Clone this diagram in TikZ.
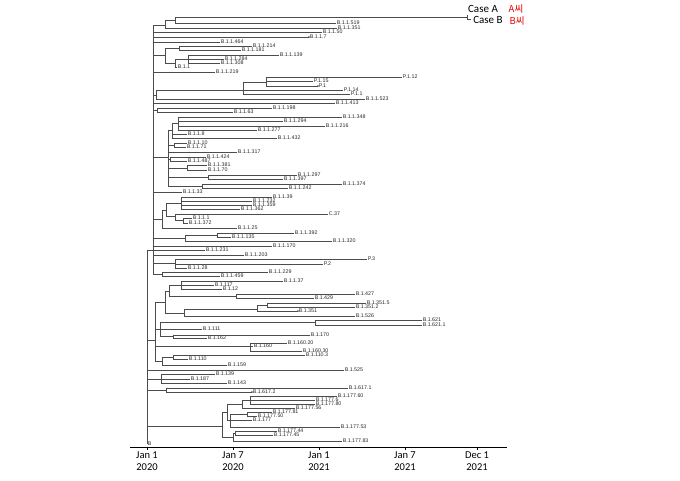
\documentclass[tikz,border=0pt]{standalone}
\usepackage{fontspec}
\setmainfont{Liberation Sans}
\newfontfamily\carl{Carlito}
\newfontfamily\krf{Noto Sans CJK KR}
\tikzset{
  br/.style={draw=black!70, line width=0.5pt},
  lbl/.style={anchor=west, inner sep=0.6pt, font=\fontsize{5.3}{5.3}\selectfont, text=black!85},
  axlbl/.style={font=\carl\fontsize{10.5}{12}\selectfont, align=center, inner sep=0pt},
  casel/.style={font=\carl\fontsize{11}{12}\selectfont, inner sep=0pt},
  krl/.style={font=\krf\fontsize{9.5}{10}\selectfont, text=red!90!black, inner sep=0pt},
  tipdot/.style={fill=black!75}
}
\newcommand\lf[4]{\coordinate (#1) at (#2,#3); \node[lbl] (#1t) at (#1) {#4};}
\newcommand\nd[3]{\coordinate (#1) at (#2,#3);}
\begin{document}
\begin{tikzpicture}[x=1pt,y=-1pt]
\useasboundingbox (0,0) rectangle (680,481);
% internal nodes
\nd{R}{147}{250}\nd{U}{153}{250}\nd{T}{165}{25}\nd{T1}{175}{20}\nd{caseN}{467}{17}
\nd{cA}{468}{15}\nd{cB}{471}{19.5}
\nd{g1}{165}{55}\nd{g2}{179}{48}\nd{g3}{175}{63}\nd{g4}{188}{59}
\nd{Pc}{156}{95}\nd{Pb}{243}{90}\nd{Pa}{266}{82}\nd{Q}{157}{110}
\nd{C1a}{178}{123}\nd{C1}{172}{130}\nd{C2}{174}{145}\nd{C3}{170}{159}\nd{C4}{187}{168}
\nd{C5}{208}{177}\nd{C6}{202}{186}\nd{Cn}{168}{157}
\nd{D1a}{181}{203}\nd{D1c}{183}{220}\nd{D1b}{175}{216}\nd{D1}{166}{210}\nd{D}{162}{219}
\nd{E1}{217}{235}\nd{E}{185}{238}\nd{F}{175}{263}\nd{G}{162}{274}
\nd{H1a}{181}{285}\nd{H1b}{236}{296}\nd{H1}{169}{291}\nd{H2b}{267}{305}\nd{H2a}{257}{309}
\nd{H2}{184}{313}\nd{H12}{165}{302}\nd{H3b}{315}{322}\nd{H3a}{173}{336}\nd{H3}{160}{329}
\nd{H4}{250}{346}\nd{H5a}{173}{357}\nd{H5}{162}{361}\nd{H}{155}{340}
\nd{I}{161}{379}\nd{J}{166}{390}
\nd{Ka}{250}{400}\nd{Kb}{242}{404}\nd{Kc}{247}{414}\nd{Kd}{230}{420}\nd{Kx}{227}{412}
\nd{Kf}{235}{433}\nd{Kg}{233}{437}\nd{K}{222}{426}
% leaves
\lf{a519}{336}{23}{B.1.1.519}\lf{a351}{337}{28}{B.1.1.351}
\lf{a50}{322}{32}{B.1.1.50}\lf{a7}{309}{37}{B.1.1.7}\lf{a464}{220}{42}{B.1.1.464}
\lf{a214}{252}{46}{B.1.1.214}\lf{a181}{241}{50}{B.1.1.181}\lf{a139}{279}{55}{B.1.1.139}
\lf{a284}{224}{59}{B.1.1.284}\lf{a308}{220}{63}{B.1.1.308}\lf{aB11}{177}{67}{B.1.1}
\lf{a219}{215}{72}{B.1.1.219}
\lf{p12}{402}{77}{P.1.12}\lf{p15}{313}{81}{P.1.15}\lf{p1}{318}{86}{P.1}
\lf{p14}{343}{90}{P.1.14}\lf{p11}{350}{94}{P.1.1}
\lf{a523}{365}{99}{B.1.1.523}\lf{a413}{335}{103}{B.1.1.413}
\lf{a198}{272}{108}{B.1.1.198}\lf{a63}{233}{112}{B.1.1.63}
\lf{a348}{342}{117}{B.1.1.348}\lf{a294}{283}{121}{B.1.1.294}\lf{a216}{325}{126}{B.1.1.216}
\lf{a277}{257}{130}{B.1.1.277}\lf{a8}{187}{134}{B.1.1.8}\lf{a432}{277}{138}{B.1.1.432}
\lf{a10}{187}{143}{B.1.1.10}\lf{a71}{186}{147}{B.1.1.71}\lf{a317}{237}{152}{B.1.1.317}
\lf{a424}{206}{157}{B.1.1.424}\lf{a487}{187}{161}{B.1.1.487}\lf{a381}{207}{165}{B.1.1.381}
\lf{a70}{207}{170}{B.1.1.70}\lf{a297}{297}{175}{B.1.1.297}\lf{a397}{283}{179}{B.1.1.397}
\lf{a374}{342}{184}{B.1.1.374}\lf{a242}{288}{188}{B.1.1.242}\lf{a33}{182}{192}{B.1.1.33}
\lf{a39}{272}{197}{B.1.1.39}\lf{a232}{252}{201}{B.1.1.232}\lf{a359}{252}{205}{B.1.1.359}
\lf{a362}{240}{209}{B.1.1.362}\lf{c37}{328}{214}{C.37}\lf{a1}{192}{218}{B.1.1.1}
\lf{a372}{188}{223}{B.1.1.372}\lf{a25}{237}{228}{B.1.1.25}\lf{a392}{294}{233}{B.1.1.392}
\lf{a135}{231}{237}{B.1.1.135}\lf{a320}{332}{241}{B.1.1.320}\lf{a170}{272}{246}{B.1.1.170}
\lf{a231}{205}{250}{B.1.1.231}\lf{a203}{244}{255}{B.1.1.203}\lf{p3}{367}{259}{P.3}
\lf{p2}{323}{264}{P.2}\lf{a28}{187}{268}{B.1.1.28}\lf{a229}{268}{272}{B.1.1.229}
\lf{a459}{220}{276}{B.1.1.459}
\lf{a37}{283}{281}{B.1.1.37}\lf{b117}{214}{285}{B.1.117}\lf{b12}{222}{289}{B.1.12}
\lf{b427}{355}{294}{B.1.427}\lf{b429}{314}{298}{B.1.429}\lf{b3515}{366}{303}{B.1.351.5}
\lf{b3512}{355}{307}{B.1.351.2}\lf{b351}{298}{311}{B.1.351}\lf{b526}{355}{316}{B.1.526}
\lf{b621}{422}{320}{B.1.621}\lf{b6211}{422}{325}{B.1.621.1}\lf{b111}{202}{329}{B.1.111}
\lf{b170}{310}{335}{B.1.170}\lf{b162}{207}{338}{B.1.162}\lf{b16020}{287}{343}{B.1.160.20}
\lf{b160}{253}{346}{B.1.160}\lf{b16030}{302}{351}{B.1.160.30}\lf{b1103}{305}{355}{B.1.110.3}
\lf{b110}{188}{359}{B.1.110}\lf{b159}{227}{365}{B.1.159}\lf{b525}{344}{370}{B.1.525}
\lf{b139}{215}{374}{B.1.139}\lf{b187}{190}{379}{B.1.187}\lf{b143}{227}{383}{B.1.143}
\lf{b6171}{348}{388}{B.1.617.1}\lf{b6172}{252}{392}{B.1.617.2}
\lf{k60}{337}{396}{B.1.177.60}\lf{k6}{315}{400}{B.1.177.6}\lf{k80}{315}{404}{B.1.177.80}
\lf{k56}{295}{408}{B.1.177.56}\lf{k81}{272}{412}{B.1.177.81}\lf{k50}{257}{416}{B.1.177.50}
\lf{k177}{252}{420}{B.1.177}\lf{k53}{340}{427}{B.1.177.53}\lf{k44}{277}{431}{B.1.177.44}
\lf{k45}{273}{435}{B.1.177.45}\lf{k83}{342}{441}{B.1.177.83}\lf{lB}{147}{444}{B}
% branches
\foreach \a/\b in {R/U,R/H,R/b525,R/I,R/J,R/K,R/lB,
 U/T,U/a50,U/a7,U/a464,U/g1,U/a219,U/Pc,U/a413,U/Q,U/Cn,U/a33,U/D,U/E,U/a170,U/a231,U/a203,U/F,U/G,
 T/T1,T/a351,T1/caseN,T1/a519,caseN/cA,caseN/cB,
 g1/g2,g1/g3,g2/a214,g2/a181,g3/g4,g3/aB11,g4/a139,g4/a284,g4/a308,
 Pc/Pb,Pc/a523,Pb/Pa,Pb/p14,Pb/p11,Pa/p12,Pa/p15,Pa/p1,Q/a198,Q/a63,
 Cn/C1,Cn/C2,Cn/a317,Cn/C3,Cn/C4,Cn/C5,Cn/C6,
 C1/C1a,C1/a8,C1/a432,C1a/a348,C1a/a294,C1a/a216,C1a/a277,
 C2/a10,C2/a71,C3/a424,C3/a487,C4/a381,C4/a70,C5/a297,C5/a397,C6/a374,C6/a242,
 D/D1,D/a25,D1/D1a,D1/D1b,D1a/a39,D1a/a232,D1a/a359,D1a/a362,D1b/c37,D1b/D1c,D1c/a1,D1c/a372,
 E/E1,E/a320,E1/a392,E1/a135,F/p3,F/p2,F/a28,G/a229,G/a459,
 H/H12,H/H3,H/H4,H/H5,H12/H1,H12/H2,H1/H1a,H1/H1b,H1a/a37,H1a/b117,H1a/b12,H1b/b427,H1b/b429,
 H2/H2a,H2/b526,H2a/H2b,H2a/b351,H2b/b3515,H2b/b3512,
 H3/H3b,H3/b111,H3/H3a,H3b/b621,H3b/b6211,H3a/b170,H3a/b162,
 H4/b16020,H4/b160,H4/b16030,H5/H5a,H5/b159,H5a/b1103,H5a/b110,
 I/b139,I/b187,I/b143,J/b6171,J/b6172,
 K/Kx,K/Kg,Kx/Kb,Kx/Kd,Kb/Ka,Kb/k56,Ka/k60,Ka/k6,Ka/k80,Kd/Kc,Kd/k177,Kd/k53,Kc/k81,Kc/k50,
 Kg/Kf,Kg/k83,Kf/k44,Kf/k45}
 {\draw[br] (\a) |- (\b);}
% variant dots
\foreach \p in {a7,p1,b351,b6172} {\fill[tipdot] (\p) circle (0.8);}
% cases
\node[casel] (caseA) at (483,9) {Case A};
\node[casel] (caseB) at (488,20) {Case B};
\node[krl] (krA) at (516,8.5) {A씨};
\node[krl] (krB) at (517,20.5) {B씨};
% axis
\coordinate (ax1) at (130,447); \coordinate (ax2) at (507,447);
\draw[line width=0.8pt] (ax1) -- (ax2);
\foreach \x/\t [count=\i] in {147/{Jan 1\\2020},233/{Jan 7\\2020},319/{Jan 1\\2021},405/{Jan 7\\2021},477/{Dec 1\\2021}}{
  \coordinate (tk\i) at (\x,447);
  \draw[line width=0.6pt] (tk\i) -- ++(0,3);
  \node[axlbl, anchor=north] (tl\i) at (\x,451.5) {\t};
}
\end{tikzpicture}
\end{document}
